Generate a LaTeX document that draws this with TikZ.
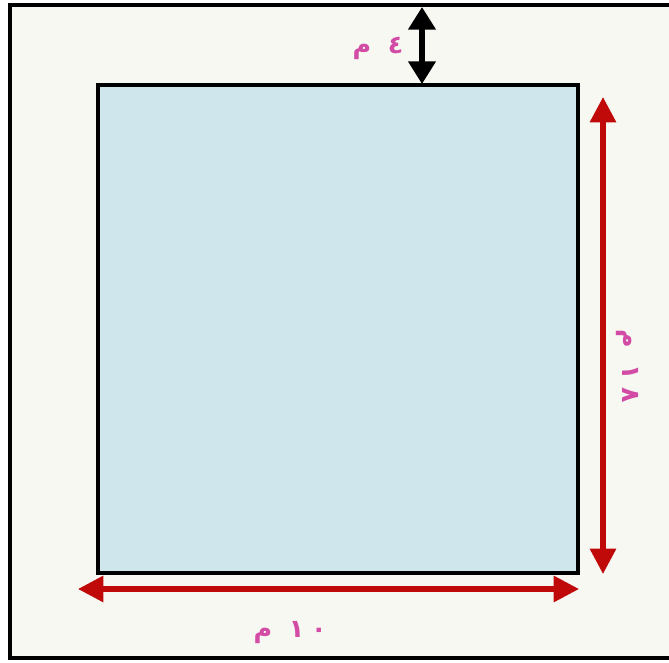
\documentclass[tikz,border=0pt]{standalone}
\usepackage{fontspec}
\usetikzlibrary{positioning, arrows.meta}
\TeXXeTstate=1
\newfontfamily\arabicfont[Script=Arabic]{DejaVu Sans}
\definecolor{fundo}{RGB}{247,248,242}
\definecolor{piscina}{RGB}{207,230,237}
\definecolor{cota}{RGB}{192,10,10}
\definecolor{rosa}{RGB}{210,75,165}

\begin{document}
\begin{tikzpicture}[x=0.75pt, y=-0.75pt,
  setavermelha/.style={{Triangle[length=19pt,width=19pt]}-{Triangle[length=19pt,width=19pt]}, line width=3.8pt, cota},
  setapreta/.style={{Triangle[length=17pt,width=20pt]}-{Triangle[length=17pt,width=20pt]}, line width=4pt, black},
  rotulo/.style={text=rosa, font=\arabicfont\bfseries\fontsize{19}{19}\selectfont, inner sep=0pt}]

\useasboundingbox (0,0) rectangle (669,663);

% Moldura
\fill[white] (0,0) rectangle (669,663);
\draw[line width=3.2pt, fill=fundo] (10,5) rectangle (690,658);

% Retangulo
\draw[line width=3.2pt, fill=piscina] (98,85) rectangle (578,573);

% Cotas
\coordinate (topo) at (422,7);
\coordinate (borda) at (422,84);
\draw[setapreta] (topo) -- (borda);

\coordinate (esq) at (78,589);
\coordinate (dir) at (579,589);
\draw[setavermelha] (esq) -- (dir);

\coordinate (cima) at (603,97);
\coordinate (baixo) at (603,574);
\draw[setavermelha] (cima) -- (baixo);

% Rotulos
\node[rotulo] (rot4) at (378,48) {\beginR\beginL ٤\endL\hspace{6pt} م\endR};
\node[rotulo] (rot10) at (290,633) {\beginR\beginL ١\hspace{5pt}٠\endL\hspace{6pt} م\endR};
\node[rotulo, rotate=-90] (rot18) at (627,366) {\beginR\beginL ١\hspace{5pt}٨\endL\hspace{6pt} م\endR};

\end{tikzpicture}
\end{document}
